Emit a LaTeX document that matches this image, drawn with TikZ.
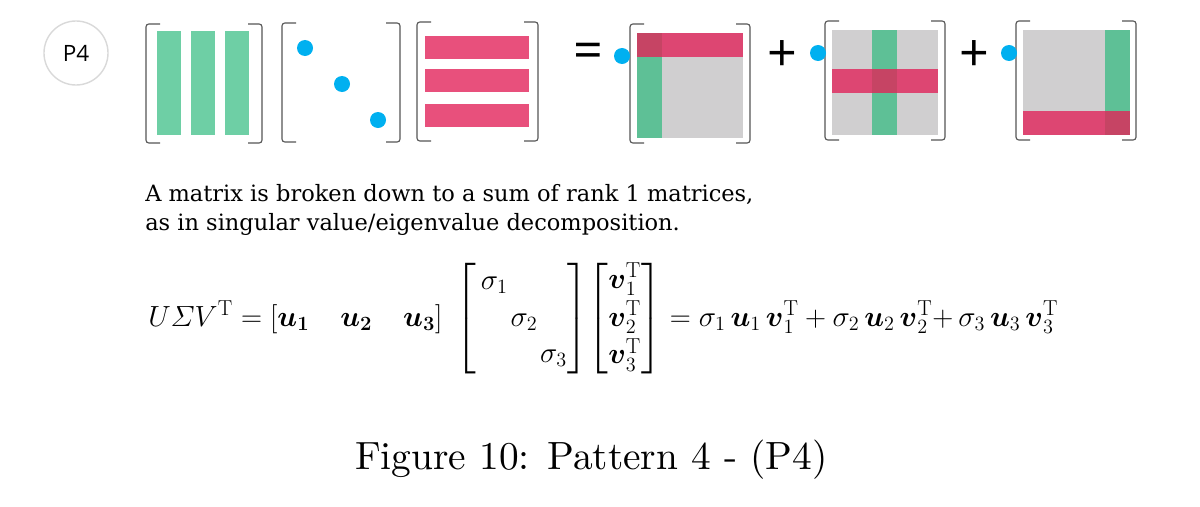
\documentclass[tikz,border=0pt]{standalone}
\usepackage{amsmath, amssymb}
\usepackage{fontspec}
\usepackage{tikz}
\usepackage{xcolor}
\usetikzlibrary{positioning}
\newfontfamily\bodyfont{DejaVu Serif}
\newfontfamily\labelfont{Open Sans}
\newfontfamily\capfont{lmroman10-regular.otf}
\definecolor{matgreen}{RGB}{110, 207, 165}
\definecolor{matpink}{RGB}{232, 80, 124}
\definecolor{matgray}{RGB}{208, 207, 208}
\definecolor{colgreen}{RGB}{94, 192, 150}
\definecolor{rowred}{RGB}{221, 70, 114}
\definecolor{overlap}{RGB}{198, 68, 100}
\definecolor{sigblue}{RGB}{0, 176, 240}
\definecolor{brk}{RGB}{85, 85, 85}
% left x, right x, top y, bottom y
\newcommand{\matbrk}[4]{%
  \draw[bracket] (#1+14,#3) -- (#1,#3) -- (#1,#4) -- (#1+14,#4);
  \draw[bracket] (#2-14,#3) -- (#2,#3) -- (#2,#4) -- (#2-14,#4);}
\newcommand{\bu}{\boldsymbol{u}}
\newcommand{\bv}{\boldsymbol{v}}
\newcommand{\tr}{^{\mathrm{T}}}

\begin{document}
\begin{tikzpicture}[x=0.025cm, y=-0.025cm,
  bracket/.style={draw=brk, line width=0.8pt, rounded corners=2pt},
  sig/.style={circle, fill=sigblue, inner sep=0pt, minimum size=0.4cm},
  op/.style={font=\labelfont\fontsize{37}{37}\selectfont, inner sep=0pt}]
  \useasboundingbox (0,0) rectangle (1200,506);
  % Label
  \node[circle, draw=black!15, line width=1pt, minimum size=1.6cm,
        font=\labelfont\fontsize{16}{16}\selectfont] (lbl) at (76,53) {P4};
  % U
  \matbrk{146}{262}{24}{143}
  \foreach \x in {157, 191, 225}
    \fill[matgreen] (\x,31) rectangle ++(24,104);
  % Sigma
  \matbrk{282}{400}{23}{142}
  \foreach \i/\x/\y in {1/305/48, 2/342/84, 3/378/120}
    \node[sig] (s\i) at (\x,\y) {};
  % V^T
  \matbrk{417}{538}{22}{141}
  \foreach \y in {36, 69, 104}
    \fill[matpink] (425,\y) rectangle ++(104,23);
  \node[op] (eq) at (588,56) {=};
  % Rank 1 terms
  \foreach \i/\gx/\gy/\cx/\ry/\dx in {1/637/33/637/33/622, 2/832/30/872/69/818, 3/1023/30/1105/111/1009} {
    \fill[matgray] (\gx,\gy) rectangle ++(106,105);
    \fill[colgreen] (\cx,\gy) rectangle ++(25,105);
    \fill[rowred] (\gx,\ry) rectangle ++(106,24);
    \fill[overlap] (\cx,\ry) rectangle ++(25,24);
    \matbrk{\gx-7}{\gx+113}{\gy-9}{\gy+110}
    \node[sig] (d\i) at (\dx,\gy+23) {};
  }
  \node[op] (p1) at (782,56) {+};
  \node[op] (p2) at (974,56) {+};
  % Text
  \node[anchor=base west, inner sep=0pt, font=\bodyfont\fontsize{16}{20}\selectfont] (txt1) at (145,201)
    {A matrix is broken down to a sum of rank 1 matrices,};
  \node[anchor=base west, inner sep=0pt, font=\bodyfont\fontsize{16}{20}\selectfont] (txt2) at (145,230)
    {as in singular value/eigenvalue decomposition.};
  \node[anchor=base west, inner sep=0pt, font=\fontsize{22}{26}\selectfont] (svd) at (148,326)
    {$U\varSigma V\tr = [\boldsymbol{u_1} \quad \boldsymbol{u_2} \quad \boldsymbol{u_3}]\;
      \left[\begin{array}{@{\,}c@{\hspace{2pt}}c@{\hspace{2pt}}c@{}} \sigma_1 & & \\ & \sigma_2 & \\ & & \sigma_3 \end{array}\right]\!
      \left[\begin{array}{@{}c@{}} \bv_1\tr \\[1pt] \bv_2\tr \\[1pt] \bv_3\tr \end{array}\right]
      = \sigma_1\,\bu_1\,\bv_1\tr + \sigma_2\,\bu_2\,\bv_2\tr{+}\,\sigma_3\,\bu_3\,\bv_3\tr$};
  \node[anchor=base west, inner sep=0pt, font=\capfont\fontsize{28}{32}\selectfont] (cap) at (355,469)
    {Figure 10: Pattern 4 - (P4)};
\end{tikzpicture}
\end{document}
